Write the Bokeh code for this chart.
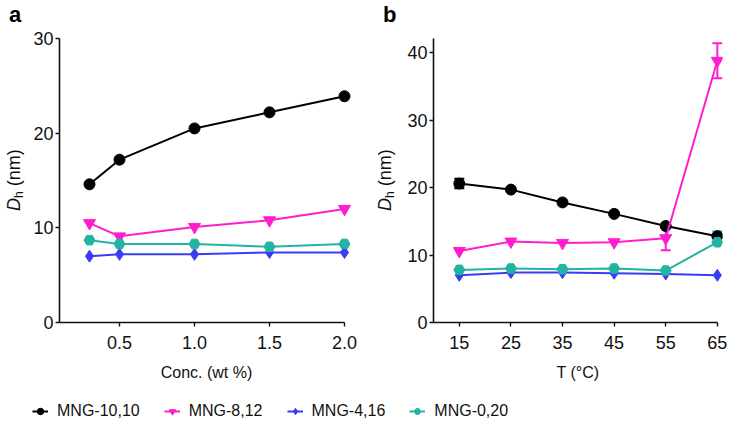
from bokeh.plotting import figure
from bokeh.models import (Range1d, FixedTicker, Legend, LegendItem,
                          ColumnDataSource, Whisker, TeeHead, Div)
from bokeh.layouts import column, row
from bokeh.embed import file_html
from bokeh.resources import INLINE

# ---------------- data ----------------
series_names = ["MNG-10,10", "MNG-8,12", "MNG-4,16", "MNG-0,20"]

conc = [0.3, 0.5, 1.0, 1.5, 2.0]
a_mng_10_10 = [14.6, 17.2, 20.5, 22.2, 23.9]
a_mng_8_12 = [10.5, 9.1, 10.1, 10.8, 12.0]
a_mng_4_16 = [7.0, 7.2, 7.2, 7.4, 7.4]
a_mng_0_20 = [8.7, 8.3, 8.3, 8.0, 8.3]

temp = [15, 25, 35, 45, 55, 65]
b_mng_10_10 = [20.6, 19.7, 17.8, 16.1, 14.3, 12.8]
b_mng_8_12 = [10.6, 12.0, 11.8, 11.9, 12.5, 38.8]
b_mng_4_16 = [7.0, 7.4, 7.4, 7.3, 7.2, 7.0]
b_mng_0_20 = [7.8, 8.0, 7.9, 8.0, 7.7, 11.9]

# error bars (temperature panel)
err_black_x = [15]
err_black_val = [20.6]
err_black_sd = [0.7]
err_mag_x = [55, 65]
err_mag_val = [12.5, 38.8]
err_mag_sd = [1.8, 2.6]
err_teal_x = [65]
err_teal_val = [11.9]
err_teal_sd = [1.6]

a_xticks = [0.5, 1.0, 1.5, 2.0]
a_xtick_labels = ["0.5", "1.0", "1.5", "2.0"]
a_yticks = [0, 10, 20, 30]
b_xticks = [15, 25, 35, 45, 55, 65]
b_yticks = [0, 10, 20, 30, 40]

# ---------------- styles ----------------
colors = ["#000000", "#ff1dce", "#3b3cf2", "#22b3a3"]
markers = ["circle", "inverted_triangle", "diamond", "hex"]
msizes = [11, 12, 12, 11]
FONT = "Liberation Sans"
TXT = "#111111"
H = 390


def style(p, xticks, yticks, xlab, xbounds, xoverrides=None):
    p.xgrid.visible = False
    p.ygrid.visible = False
    p.outline_line_color = None
    for ax in [p.xaxis[0], p.yaxis[0]]:
        ax.axis_line_width = 1.6
        ax.axis_line_color = "#111111"
        ax.major_tick_line_color = "#111111"
        ax.major_tick_line_width = 1.4
        ax.major_tick_out = 4
        ax.major_tick_in = 0
        ax.minor_tick_line_color = None
        ax.major_label_text_font = FONT
        ax.major_label_text_font_size = "18px"
        ax.major_label_text_color = TXT
    p.xaxis.bounds = xbounds
    p.xaxis.ticker = FixedTicker(ticks=xticks)
    p.yaxis.ticker = FixedTicker(ticks=yticks)
    if xoverrides:
        p.xaxis.major_label_overrides = xoverrides
    p.yaxis.major_label_standoff = 2
    p.xaxis.major_label_standoff = 9
    p.xaxis.axis_label = xlab
    p.xaxis.axis_label_text_font = FONT
    p.xaxis.axis_label_text_font_size = "16px"
    p.xaxis.axis_label_text_font_style = "normal"
    p.xaxis.axis_label_text_color = TXT
    p.xaxis.axis_label_standoff = 12


def side_div(width, letter, letter_left, label_left):
    html = ('<div style="font-family:\'Liberation Sans\'; font-size:22px; font-weight:bold; '
            'line-height:24px; height:24px; margin:3px 0 0 %dpx; color:#000000;">%s</div>'
            '<div style="width:90px; height:22px; margin-left:%dpx; margin-top:184px; '
            'transform:rotate(-90deg); transform-origin:0 0; white-space:nowrap; '
            'font-family:\'Liberation Sans\'; font-size:18px; line-height:22px; color:#111111;">'
            '<i>D</i><sub style="font-size:12px; vertical-align:-3px;">h</sub> (nm)</div>'
            % (letter_left, letter, label_left))
    return Div(text=html, width=width, height=H, margin=0)


# ---------------- panel a ----------------
da = side_div(24, "a", 9, 3)
pa = figure(width=334, height=H, output_backend="svg", toolbar_location=None,
            x_range=Range1d(0.1, 2.06), y_range=Range1d(0, 30),
            min_border_left=35, min_border_right=5, min_border_top=38,
            min_border_bottom=H - 322)
style(pa, a_xticks, a_yticks, "Conc. (wt %)", (0.1, 2.0),
      {t: l for t, l in zip(a_xticks, a_xtick_labels)})

a_series = [a_mng_10_10, a_mng_8_12, a_mng_4_16, a_mng_0_20]
for ys, c, m, s in zip(a_series, colors, markers, msizes):
    pa.line(conc, ys, line_color=c, line_width=2)
    pa.scatter(conc, ys, marker=m, size=s, fill_color=c, line_color=c)

# ---------------- panel b ----------------
db = side_div(40, "b", 25, 16)
pb = figure(width=332, height=H, output_backend="svg", toolbar_location=None,
            x_range=Range1d(10, 66), y_range=Range1d(0, 42.1),
            min_border_left=35, min_border_right=8, min_border_top=38,
            min_border_bottom=H - 322)
style(pb, b_xticks, b_yticks, "T (°C)", (10, 65))

b_series = [b_mng_10_10, b_mng_8_12, b_mng_4_16, b_mng_0_20]
errs = [(err_black_x, err_black_val, err_black_sd, True),
        (err_mag_x, err_mag_val, err_mag_sd, True),
        None,
        (err_teal_x, err_teal_val, err_teal_sd, False)]
for ys, c, m, s, e in zip(b_series, colors, markers, msizes, errs):
    pb.line(temp, ys, line_color=c, line_width=2)
    if e is not None:
        ex, ev, sd, both = e
        src = ColumnDataSource(dict(
            x=ex,
            upper=[v + d for v, d in zip(ev, sd)],
            lower=[v - d for v, d in zip(ev, sd)] if both else list(ev)))
        w = Whisker(source=src, base="x", upper="upper", lower="lower",
                    line_color=c, line_width=2,
                    upper_head=TeeHead(size=10, line_color=c, line_width=2),
                    lower_head=TeeHead(size=10 if both else 0.1, line_color=c, line_width=2))
        pb.add_layout(w)
    pb.scatter(temp, ys, marker=m, size=s, fill_color=c, line_color=c)

# ---------------- legend ----------------
pl = figure(width=730, height=426 - H, output_backend="svg", toolbar_location=None,
            x_range=Range1d(0, 1), y_range=Range1d(0, 1),
            min_border=0, min_border_left=0, min_border_right=0,
            min_border_top=0, min_border_bottom=0)
pl.axis.visible = False
pl.xgrid.visible = False
pl.ygrid.visible = False
pl.outline_line_color = None
items = []
for name, c, m, s in zip(series_names, colors, markers, msizes):
    r1 = pl.line([-10, -9], [-10, -10], line_color=c, line_width=2)
    r2 = pl.scatter([-10], [-10], marker=m, size=s, fill_color=c, line_color=c)
    items.append(LegendItem(label=name, renderers=[r1, r2]))
leg = Legend(items=items, orientation="horizontal", location=(32, 5),
             glyph_width=16, glyph_height=20, label_standoff=9, spacing=24,
             padding=0, margin=0, border_line_color=None, background_fill_alpha=0,
             label_text_font=FONT, label_text_font_size="16px",
             label_text_color=TXT)
pl.add_layout(leg, "center")

layout = column(row(da, pa, db, pb, spacing=0), pl, spacing=0)

open("out.html", "w").write(file_html(layout, INLINE))
